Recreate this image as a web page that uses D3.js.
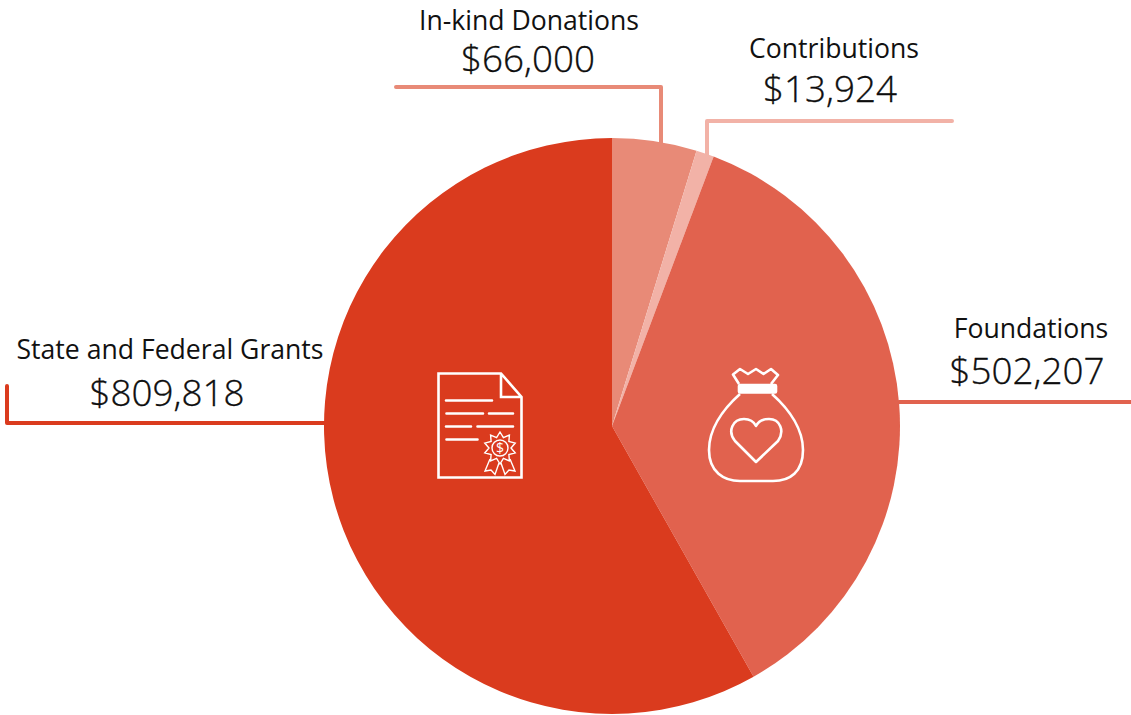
<!DOCTYPE html>
<html><head><meta charset="utf-8">
<script src="https://cdn.jsdelivr.net/npm/d3@7"></script>
<style>html,body{margin:0;padding:0;background:#fff}svg{display:block}text{font-family:"Open Sans",sans-serif;fill:#111;text-anchor:middle}</style>
</head><body><svg id="c" width="1131" height="715"></svg>
<script>
const categories=["In-kind Donations","Contributions","Foundations","State and Federal Grants"];
const values=[66000,13924,502207,809818];
const valueLabels=["$66,000","$13,924","$502,207","$809,818"];
const colors=["#e88a77","#f2b2a7","#e1624e","#da3b1e"];
const labelX=[529,834,1031,170];
const nameY=[30,58,338,359];
const amountX=[528,830,1027,167];
const amountY=[72,102,384,406];
const leaders=[
 [[396,87],[661,87],[661,143]],
 [[952,121],[707,121],[707,156]],
 [[899,402],[1131,402]],
 [[325,423],[7,423],[7,386]]
];
const cx=612,cy=426,R=288;
const svg=d3.select("#c");
const pie=d3.pie().sort(null).value(d=>d)(values);
const arc=d3.arc().innerRadius(0).outerRadius(R);
const line=d3.line();
svg.selectAll("path.leader").data(leaders).join("path").attr("class","leader")
 .attr("d",d=>line(d)).attr("fill","none").attr("stroke-width",4).attr("stroke-linejoin","round").attr("stroke-linecap","round")
 .attr("stroke",(d,i)=>colors[i]);
svg.append("g").attr("transform",`translate(${cx},${cy})`).selectAll("path").data(pie).join("path")
 .attr("d",arc).attr("fill",(d,i)=>colors[i]);
svg.selectAll("text.name").data(categories).join("text").attr("class","name")
 .attr("x",(d,i)=>labelX[i]).attr("y",(d,i)=>nameY[i]).attr("font-size",26.6).text(d=>d);
svg.selectAll("text.amt").data(valueLabels).join("text").attr("class","amt")
 .attr("x",(d,i)=>amountX[i]).attr("y",(d,i)=>amountY[i]).attr("font-size",36.8).attr("font-weight",300)
 .attr("stroke","#000").attr("stroke-width",0.3).text(d=>d);

// document icon
const doc=svg.append("g").attr("fill","none").attr("stroke","#fff").attr("stroke-width",2.6);
doc.append("path").attr("d","M501,373.5H438.5V477.5H521.5V397Z M501,373.5V397H521.5");
doc.append("path").attr("stroke-linecap","round").attr("d","M446,400.5H492 M446.5,413.5H483 M489,413.5H513 M446,426.5H471 M477.5,426.5H513 M446.5,439.5H477.5");
const rosC=[500,448],pts=[];
for(let i=0;i<20;i++){const a=i*Math.PI/10,r=i%2?11:16;pts.push([rosC[0]+r*Math.sin(a),rosC[1]-r*Math.cos(a)]);}
const ros=svg.append("g").attr("fill","none").attr("stroke","#fff").attr("stroke-width",1.4);
ros.append("path").attr("d","M490,459L485,471L491,470L495,474.5L499,463 M510,459L515,471L509,470L505,474.5L501,463");
ros.append("path").attr("d",d3.line()(pts)+"Z").attr("fill","#da3b1e");
ros.append("circle").attr("cx",rosC[0]).attr("cy",rosC[1]).attr("r",8);
svg.append("text").attr("x",rosC[0]).attr("y",rosC[1]+5).attr("font-size",14).style("fill","#fff").text("$");

// money-bag icon
const bag=svg.append("g").attr("fill","none").attr("stroke","#fff").attr("stroke-width",2.6).attr("stroke-linejoin","round");
bag.append("path").attr("d","M739,384L733,374.5L740,369L748,374L756,369L763.5,374L771,369L778,375L771,384");
bag.append("path").attr("d","M740,394C722,410 709,430 709,450C709,472 724,481 740,481H773C790,481 803,472 803,450C803,430 790,410 772,394");
bag.append("rect").attr("x",739).attr("y",385).attr("width",37).attr("height",7.5).attr("fill","#fff").attr("rx",1);
bag.append("path").attr("d","M756,462L735,441C727,431 733,419 744,419C750,419 754,422 756,426C758,422 763,419 769,419C780,419 785,431 778,441Z");
</script></body></html>
